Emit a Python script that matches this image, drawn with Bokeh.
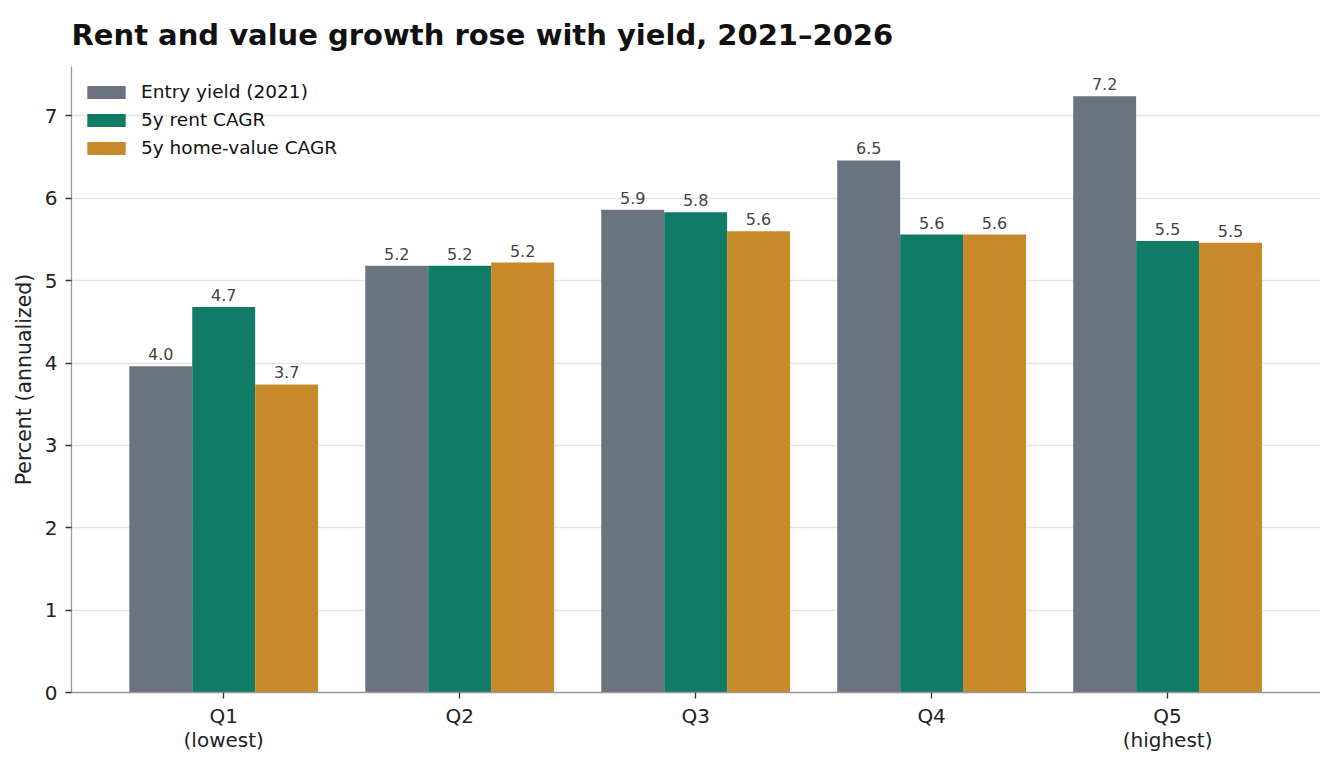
from bokeh.plotting import figure
from bokeh.models import ColumnDataSource, Range1d, FixedTicker, LabelSet, Legend, LegendItem
from bokeh.core.properties import value
from bokeh.embed import file_html
from bokeh.resources import INLINE

title_text = "Rent and value growth rose with yield, 2021–2026"
categories = ["Q1\n(lowest)", "Q2", "Q3", "Q4", "Q5\n(highest)"]
series_names = ["Entry yield (2021)", "5y rent CAGR", "5y home-value CAGR"]
entry_yield = [3.96, 5.18, 5.86, 6.46, 7.24]
rent_cagr = [4.68, 5.18, 5.83, 5.56, 5.48]
value_cagr = [3.74, 5.22, 5.60, 5.56, 5.46]
colors = ["#6b7280", "#117c66", "#c8892b"]

FONT = "DejaVu Sans"
p = figure(width=1320, height=760, output_backend="svg", toolbar_location=None,
           x_range=Range1d(-0.645, 4.648), y_range=Range1d(0, 7.6),
           min_border_left=71, min_border_right=0, min_border_top=66, min_border_bottom=68)
p.title.text = title_text
p.title.text_font = FONT
p.title.text_font_size = "29px"
p.title.text_font_style = "bold"
p.title.text_color = "#111111"
p.title.offset = 0
p.title.standoff = 30
p.title.vertical_align = "bottom"

p.outline_line_color = None
p.xgrid.grid_line_color = None
p.ygrid.grid_line_color = "#e5e5e5"
p.ygrid.grid_line_width = 1.3

p.xaxis.ticker = FixedTicker(ticks=list(range(len(categories))))
p.xaxis.major_label_overrides = {i: c for i, c in enumerate(categories)}
p.yaxis.ticker = FixedTicker(ticks=[0, 1, 2, 3, 4, 5, 6, 7])
for ax in (p.xaxis, p.yaxis):
    ax.axis_line_color = "#999999"
    ax.axis_line_width = 1.3
    ax.major_tick_line_color = "#333333"
    ax.major_tick_line_width = 1.3
    ax.major_tick_out = 6
    ax.major_tick_in = 0
    ax.minor_tick_line_color = None
    ax.major_label_text_font = FONT
    ax.major_label_text_font_size = "20px"
    ax.major_label_text_color = "#222222"
p.xaxis.major_label_text_line_height = 1.03
p.xaxis.major_label_standoff = 5
p.yaxis.major_label_standoff = 8
p.yaxis.axis_label = "Percent (annualized)"
p.yaxis.axis_label_text_font = FONT
p.yaxis.axis_label_text_font_size = "20.5px"
p.yaxis.axis_label_text_font_style = "normal"
p.yaxis.axis_label_text_color = "#222222"
p.yaxis.axis_label_standoff = 6

width = 0.8 / 3
offsets = [-width, 0, width]
items = []
for vals, name, col, off in zip([entry_yield, rent_cagr, value_cagr], series_names, colors, offsets):
    src = ColumnDataSource(dict(x=[i + off for i in range(len(vals))], top=vals,
                                lab=[f"{v:.1f}" for v in vals]))
    r = p.vbar(x="x", top="top", bottom=0, width=width, source=src,
               fill_color=col, line_color=None)
    items.append(LegendItem(label=name, renderers=[r]))
    p.add_layout(LabelSet(x="x", y="top", text="lab", source=src, y_offset=6,
                          text_align="center", text_baseline="bottom",
                          text_font=value(FONT), text_font_size="16px", text_color="#444444"))

legend = Legend(items=items, location=(11, 534), border_line_color=None,
                background_fill_alpha=0.0, label_text_font=FONT, label_text_font_size="18.5px",
                label_text_color="#111111", glyph_width=48, glyph_height=16,
                spacing=7, padding=8, margin=0, label_standoff=11)
p.add_layout(legend)

open("out.html", "w").write(file_html(p, INLINE))
